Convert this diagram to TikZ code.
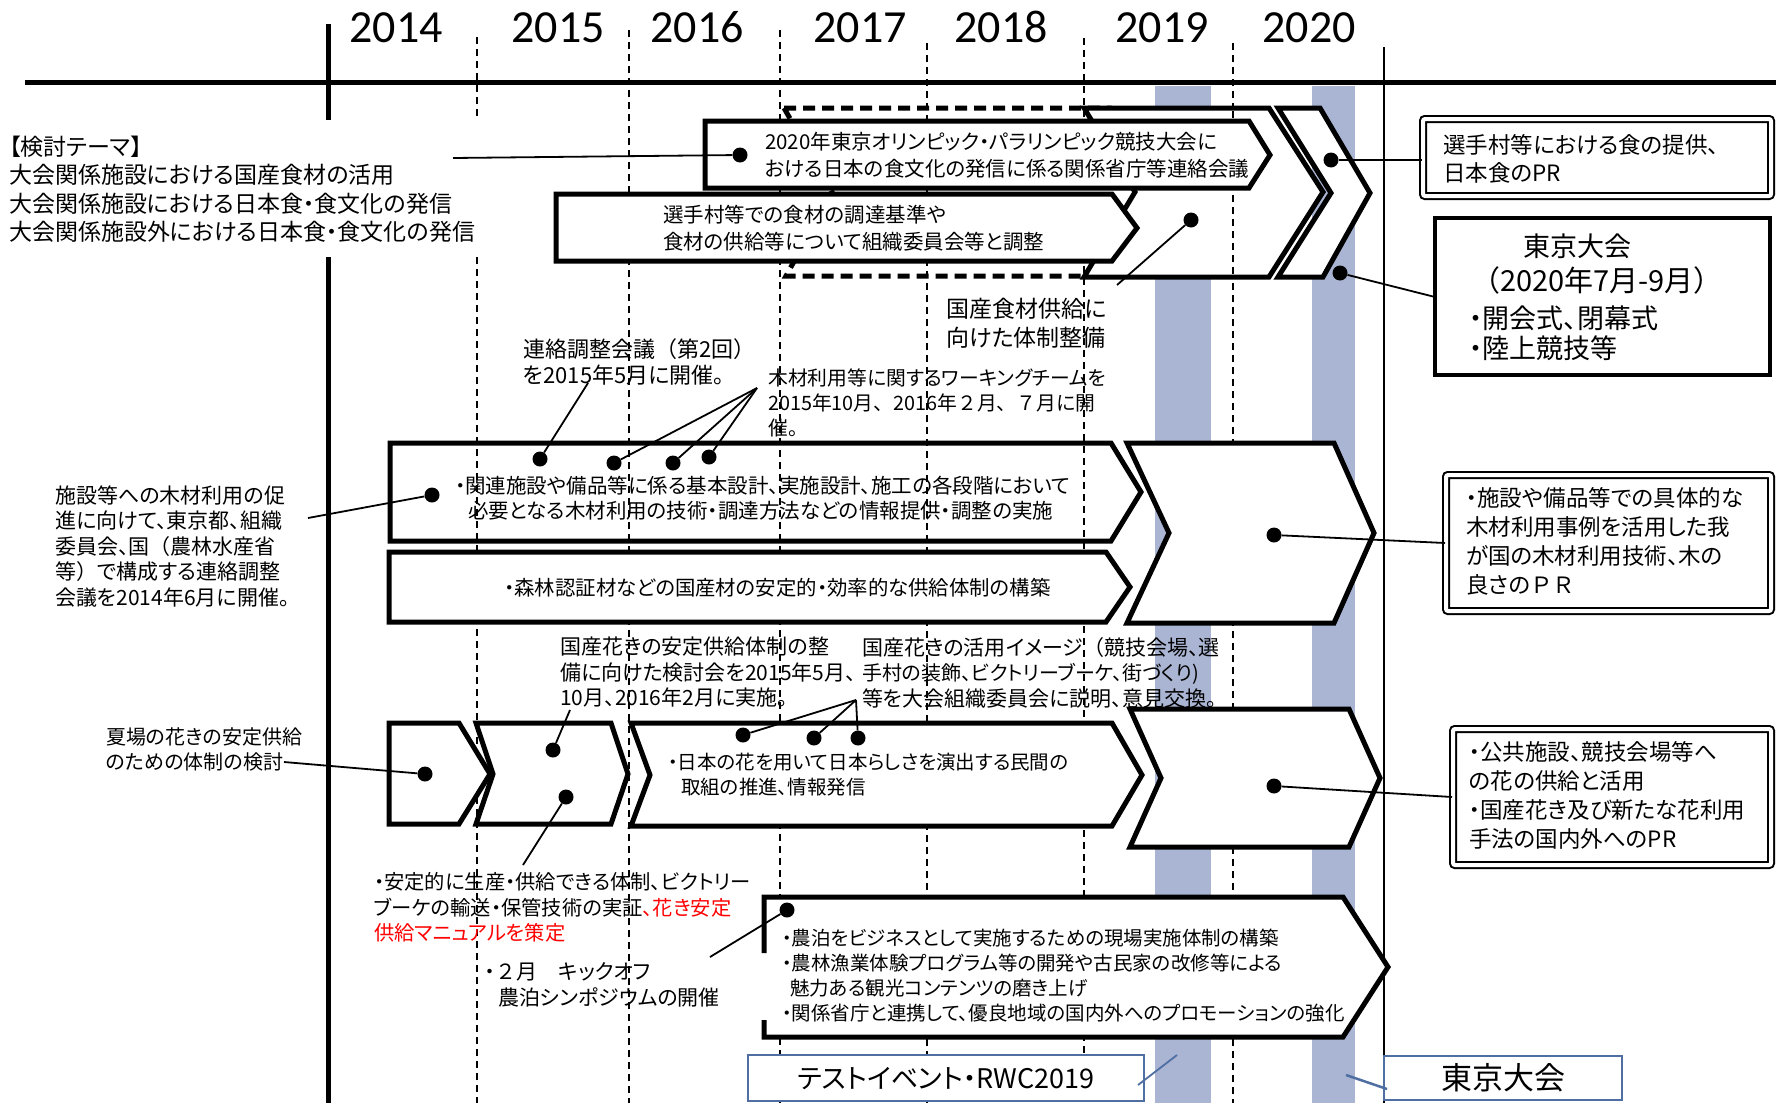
\documentclass[tikz,border=0pt]{standalone}
\usepackage{fontspec}
\setmainfont{Noto Sans CJK JP}[RawFeature=+palt]
\newfontfamily\cjkfw{Noto Sans CJK JP}
\newfontfamily\yrfont{Carlito}
\definecolor{bandc}{RGB}{170,181,211}
\definecolor{tboxc}{RGB}{79,111,163}
\definecolor{tred}{RGB}{255,0,0}
\tikzset{
 chev/.style={draw, line width=5pt, fill=white, line join=miter},
 dchev/.style={draw, line width=5pt, dash pattern=on 12pt off 7pt},
 yrdash/.style={line width=1.5pt, dash pattern=on 7pt off 5pt},
 conn/.style={line width=1.8pt},
 dotn/.style={circle, fill=black, inner sep=0pt, minimum size=15pt},
 txt/.style 2 args={font=\fontsize{#1}{#2}\selectfont, anchor=north west, inner sep=0pt, align=left, execute at begin node=\strut},
 lbl/.style={font=\fontsize{#1}{#1}\selectfont, anchor=base west, inner sep=0pt},
 dbox/.style={draw, double, double distance=4pt, line width=2pt, rounded corners=2pt, fill=white, inner sep=0pt},
 sbox/.style={draw, line width=4pt, fill=white, inner sep=0pt},
 bbox/.style={draw=tboxc, line width=2pt, fill=white, inner sep=0pt},
 year/.style={font=\yrfont\fontsize{46}{46}\selectfont, anchor=base, inner sep=0pt},
}
\begin{document}
\begin{tikzpicture}[x=1pt,y=-1pt]
\useasboundingbox (0,0) rectangle (1776,1103);
\fill[white] (0,0) rectangle (1776,1103);
% shaded bands
\fill[bandc] (1155,86) rectangle (1211,1103);
\fill[bandc] (1312,86) rectangle (1355,1103);
% year labels
\node[year] (y14) at (396,42.5) {2014};
\node[year] (y15) at (558,42.5) {2015};
\node[year] (y16) at (697,42.5) {2016};
\node[year] (y17) at (860,42.5) {2017};
\node[year] (y18) at (1001,42.5) {2018};
\node[year] (y19) at (1162,42.5) {2019};
\node[year] (y20) at (1309,42.5) {2020};
% timeline
\draw[line width=5pt] (25,82) -- (1776,82);
\draw[line width=5pt] (328,24) -- (328,120);
\draw[line width=5pt] (328,257) -- (328,1103);
\draw[yrdash] (477,37) -- (477,120);
\draw[yrdash] (477,257) -- (477,1103);
\draw[yrdash] (629,30) -- (629,1103);
\draw[yrdash] (780,30) -- (780,1103);
\draw[yrdash] (927,43) -- (927,1103);
\draw[yrdash] (1084,38) -- (1084,1103);
\draw[yrdash] (1233,43) -- (1233,1103);
\draw[line width=1.5pt] (1384,47) -- (1384,1103);
% food section
\draw[dchev] (784,108) -- (1110,108) -- (1160,192) -- (1110,276) -- (786,276) -- (832,192) -- cycle;
\draw[chev] (1084,108) -- (1269,108) -- (1323,192) -- (1269,277) -- (1084,277) -- (1135,192) -- cycle;
\draw[yrdash] (1233,111) -- (1233,274);
\draw[chev] (1278,108) -- (1320,108) -- (1370,193) -- (1323,277) -- (1278,277) -- (1331,193) -- cycle;
\draw[chev] (705,121) -- (1249,121) -- (1270,155) -- (1249,188) -- (705,188) -- cycle;
\draw[chev] (556,194) -- (1112,194) -- (1137,228) -- (1112,261) -- (556,261) -- cycle;
\node[txt={20.5}{26.5}] (tA) at (765,132.2) {2020年東京オリンピック・パラリンピック競技大会に\\おける日本の食文化の発信に係る関係省庁等連絡会議};
\node[txt={20.5}{27}] (tB) at (663,204.9) {選手村等での食材の調達基準や\\食材の供給等について組織委員会等と調整};
\node[txt={23}{29}] (tF) at (946,298.4) {国産食材供給に\\向けた体制整備};
\node[txt={23}{28.3}] (theme) at (9,135.9) {【検討テーマ】\\大会関係施設における国産食材の活用\\大会関係施設における日本食・食文化の発信\\大会関係施設外における日本食・食文化の発信};
\node[dbox, minimum width=348pt, minimum height=77pt] (boxC) at (1597,157.5) {};
\node[txt={22.5}{28}] (tC) at (1443,134) {選手村等における食の提供、\\日本食のPR};
\node[sbox, minimum width=335pt, minimum height=157pt] (boxD) at (1602.5,296.5) {};
\node[lbl=27, anchor=base] (tD1) at (1577,256.3) {東京大会};
\node[lbl=29, anchor=base] (tD2) at (1597,291) {{\cjkfw （}2020年7月-9月{\cjkfw ）}};
\node[lbl=27] (tD3) at (1469,328.3) {・開会式、閉幕式};
\node[lbl=27] (tD4) at (1469,358.3) {・陸上競技等};
% wood section
\draw[chev, fill=none] (390,443) -- (1111,443) -- (1141,492) -- (1111,541) -- (390,541) -- cycle;
\draw[chev] (389,552) -- (1106,552) -- (1130,587) -- (1106,622) -- (389,622) -- cycle;
\draw[chev] (1127,443) -- (1334,443) -- (1374,533) -- (1334,623) -- (1127,623) -- (1169,533) -- cycle;
\node[txt={20.5}{25}] (tW1) at (455,475.5) {・関連施設や備品等に係る基本設計、実施設計、施工の各段階において\\\hspace*{13pt}必要となる木材利用の技術・調達方法などの情報提供・調整の実施};
\node[lbl=20.4] (tW2) at (504,595.8) {・森林認証材などの国産材の安定的・効率的な供給体制の構築};
\node[txt={21}{25.5}] (tWL) at (55,485.1) {施設等への木材利用の促\\進に向けて、東京都、組織\\委員会、国{\cjkfw （}農林水産省\\等{\cjkfw ）}で構成する連絡調整\\会議を2014年6月に開催。};
\node[txt={22}{26}] (tW3) at (523,338.2) {連絡調整会議{\cjkfw （}第2回{\cjkfw ）}\\を2015年5月に開催。};
\node[txt={19.8}{25}] (tW4) at (768,368.6) {木材利用等に関するワーキングチームを\\2015年10月{\cjkfw 、}2016年{\cjkfw ２}月{\cjkfw 、７}月に開\\催。};
\node[dbox, minimum width=325pt, minimum height=136pt] (boxW) at (1608.5,543) {};
\node[txt={22.5}{29}] (tW5) at (1466,487.3) {・施設や備品等での具体的な\\木材利用事例を活用した我\\が国の木材利用技術、木の\\良さの{\cjkfw ＰＲ}};
% flower section
\draw[chev] (389,723) -- (459,723) -- (490,774) -- (459,824) -- (389,824) -- cycle;
\draw[chev] (476,723) -- (611,723) -- (628,774) -- (611,824) -- (476,824) -- (493,774) -- cycle;
\draw[chev] (631,723) -- (1112,723) -- (1142,775) -- (1112,826) -- (631,826) -- (650,775) -- cycle;
\draw[chev] (1130,709) -- (1349,709) -- (1380,778) -- (1349,847) -- (1130,847) -- (1161,778) -- cycle;
\node[txt={19.5}{25}] (tF3) at (668,752.9) {・日本の花を用いて日本らしさを演出する民間の\\\hspace*{13pt}取組の推進、情報発信};
\node[txt={20}{25}] (tFL) at (106,727.1) {夏場の花きの安定供給\\のための体制の検討};
\node[txt={21}{25.5}] (tF1) at (560,637.1) {国産花きの安定供給体制の整\\備に向けた検討会を2015年5月、\\10月、2016年2月に実施。};
\node[txt={21}{25.5}] (tF2) at (862,637.1) {国産花きの活用イメージ{\cjkfw （}競技会場、選\\{\fontsize{20}{25.5}\selectfont 手村の装飾、ビクトリーブーケ、街づくり)}\\等を大会組織委員会に説明、意見交換。};
\node[txt={20.3}{25.5}] (tF4) at (374,872.4) {・安定的に生産・供給できる体制、ビクトリー\\ブーケの輸送・保管技術の実証\textcolor{tred}{、花き安定}\\\textcolor{tred}{供給マニュアルを策定}};
\node[dbox, minimum width=318pt, minimum height=136pt] (boxF) at (1612,797) {};
\node[txt={22.5}{29}] (tF5) at (1469,741.3) {・公共施設、競技会場等へ\\の花の供給と活用\\・国産花き及び新たな花利用\\手法の国内外へのPR};
% agriculture section
\fill[white] (764,897) -- (1343,897) -- (1388,967) -- (1343,1037) -- (764,1037) -- cycle;
\draw[line width=5pt, line join=miter] (764,953) -- (764,897) -- (1343,897) -- (1388,967) -- (1343,1037) -- (764,1037) -- (764,1020);
\node[txt={19.5}{25}] (tN) at (782,928.9) {・農泊をビジネスとして実施するための現場実施体制の構築\\・農林漁業体験プログラム等の開発や古民家の改修等による\\\hspace*{8pt}魅力ある観光コンテンツの磨き上げ\\・関係省庁と連携して、優良地域の国内外へのプロモーションの強化};
\node[txt={21}{26}] (tK) at (485,962.8) {・{\cjkfw ２月　}キックオフ\\\hspace*{13pt}農泊シンポジウムの開催};
% bottom boxes
\node[bbox, minimum width=396pt, minimum height=46pt] (boxTE) at (946,1078) {};
\node[lbl=27, anchor=base] (tTE) at (946,1088.3) {テストイベント・RWC2019};
\node[bbox, minimum width=238pt, minimum height=44pt] (boxTK) at (1503,1078) {};
\node[lbl=31, anchor=base] (tTK) at (1503,1089.8) {東京大会};
% dots
\node[dotn] (dA) at (740,155) {};
\node[dotn] (dF) at (1191,220) {};
\node[dotn] (dC) at (1331,160) {};
\node[dotn] (dD) at (1340,273) {};
\node[dotn] (dW0) at (432,495) {};
\node[dotn] (dW1) at (540,459) {};
\node[dotn] (dW2) at (614,463) {};
\node[dotn] (dW3) at (673,463) {};
\node[dotn] (dW4) at (709,457) {};
\node[dotn] (dW5) at (1274,535) {};
\node[dotn] (dL1) at (425,774) {};
\node[dotn] (dL2) at (553,750) {};
\node[dotn] (dL3) at (566,797) {};
\node[dotn] (dL4) at (743,735) {};
\node[dotn] (dL5) at (814,738) {};
\node[dotn] (dL6) at (858,738) {};
\node[dotn] (dL7) at (1274,786) {};
\node[dotn] (dN) at (787,910) {};
% free ends
\coordinate (cTheme) at (453,158);
\coordinate (cFood) at (1117,285);
\coordinate (cWood) at (308,518);
\coordinate (cW1) at (588,383);
\coordinate (cW2) at (757,388);
\coordinate (cFl) at (284,762);
\coordinate (cF2) at (570,710);
\coordinate (cF3) at (523,865);
\coordinate (cF4) at (856,700);
\coordinate (cN) at (710,957);
\coordinate (cTE1) at (1138,1085);
\coordinate (cTE2) at (1177,1055);
\coordinate (cTK1) at (1346,1075);
\coordinate (cTK2) at (1387,1089);
% connectors
\draw[conn] (cTheme) -- (dA);
\draw[conn] (dF) -- (cFood);
\draw[conn] (dC) -- (dC -| boxC.west);
\draw[conn] (dD) -- (boxD.west);
\draw[conn] (cWood) -- (dW0);
\draw[conn] (dW1) -- (cW1);
\draw[conn] (cW2) -- (dW2);
\draw[conn] (cW2) -- (dW3);
\draw[conn] (cW2) -- (dW4);
\draw[conn] (dW5) -- (boxW.west);
\draw[conn] (cFl) -- (dL1);
\draw[conn] (dL2) -- (cF2);
\draw[conn] (dL3) -- (cF3);
\draw[conn] (cF4) -- (dL4);
\draw[conn] (cF4) -- (dL5);
\draw[conn] (cF4) -- (dL6);
\draw[conn] (dL7) -- (boxF.west);
\draw[conn] (dN) -- (cN);
\draw[conn, draw=tboxc] (cTE1) -- (cTE2);
\draw[line width=2.5pt, draw=tboxc] (cTK1) -- (cTK2);
\end{tikzpicture}
\end{document}
